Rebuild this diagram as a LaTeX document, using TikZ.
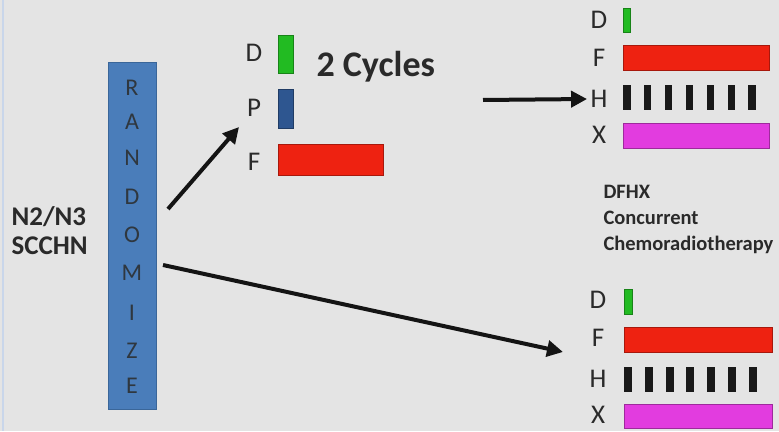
\documentclass[tikz,border=0pt]{standalone}
\usepackage{fontspec}
\setmainfont{Carlito}
\usetikzlibrary{arrows.meta}
\definecolor{bg}{HTML}{E4E4E4}
\definecolor{edgeline}{HTML}{C9D6EA}
\definecolor{randblue}{HTML}{4A7DBA}
\definecolor{randedge}{HTML}{3A6699}
\definecolor{dgreen}{HTML}{22BB22}
\definecolor{pblue}{HTML}{2E5690}
\definecolor{fred}{HTML}{EE2211}
\definecolor{xmag}{HTML}{E23CDF}
\definecolor{txt}{HTML}{2A2A2A}
\tikzset{
  bar/.style={draw=#1!70!black, line width=0.8pt, fill=#1},
  hbar/.style={fill=black!90},
  drug/.style={text=txt, font=\fontsize{27}{27}\selectfont, anchor=center},
  letter/.style={text=txt!85!randblue, font=\fontsize{24}{24}\selectfont},
  bigarrow/.style={line width=4pt, -{Triangle[length=16pt,width=16pt]}, black!92},
  note/.style={text=txt, font=\bfseries\fontsize{20.5}{26}\selectfont, align=left, anchor=west}
}
\begin{document}
\begin{tikzpicture}[x=1pt,y=-1pt]
  % canvas
  \fill[bg] (0,0) rectangle (779,431);
  \useasboundingbox (0,0) rectangle (779,431);
  \fill[edgeline] (2,0) rectangle (4,431);

  % population
  \node[note, font=\bfseries\fontsize{27}{29}\selectfont] (pop) at (8,231) {N2/N3\\SCCHN};

  % randomization column
  \node[draw=randedge, fill=randblue, minimum width=48pt, minimum height=347pt, inner sep=0pt] (rand) at (132,235.5) {};
  \foreach \ch/\yy in {R/88,A/122,N/158,D/197,O/235,M/273,I/313,Z/351,E/386}
    \node[letter] at (132,\yy) {\ch};

  % induction arm: DPF
  \node[drug] (d1) at (254,53) {D};
  \node[drug] (p1) at (254,108) {P};
  \node[drug] (f1) at (254,162) {F};
  \draw[bar=dgreen] (278,35) rectangle (293,73);
  \draw[bar=pblue] (278,89) rectangle (293,128);
  \draw[bar=fred] (278,144) rectangle (383,175);
  \node[text=txt, font=\bfseries\fontsize{36}{36}\selectfont, anchor=west] (cyc) at (313,67) {2 Cycles};

  % top chemoradiotherapy block
  \node[drug] (d2) at (599,20) {D};
  \node[drug] (f2) at (599,58) {F};
  \node[drug] (h2) at (599,99) {H};
  \node[drug] (x2) at (599,135) {X};
  \draw[bar=dgreen] (623,8) rectangle (630,32);
  \draw[bar=fred] (623,45) rectangle (769,70);
  \foreach \k in {0,...,6}
    \fill[hbar] (623+20.9*\k,85) rectangle (630.5+20.9*\k,110);
  \draw[bar=xmag] (623,123) rectangle (769,148);

  \node[note] (dfhx) at (600,219) {DFHX\\Concurrent\\Chemoradiotherapy};

  % bottom chemoradiotherapy block
  \node[drug] (d3) at (598,300) {D};
  \node[drug] (f3) at (598,338) {F};
  \node[drug] (h3) at (598,379) {H};
  \node[drug] (x3) at (598,415) {X};
  \draw[bar=dgreen] (624,289) rectangle (632,314);
  \draw[bar=fred] (624,327) rectangle (772,352);
  \foreach \k in {0,...,6}
    \fill[hbar] (624+20.8*\k,367) rectangle (632+20.8*\k,392);
  \draw[bar=xmag] (624,404) rectangle (772,428);

  % arrows
  \coordinate (a1s) at (168,209);
  \coordinate (a1e) at (239,127);
  \coordinate (a2s) at (163,265);
  \coordinate (a2e) at (563,352);
  \coordinate (a3s) at (483,100);
  \draw[bigarrow] (a1s) -- (a1e);
  \draw[bigarrow] (a2s) -- (a2e);
  \draw[bigarrow] (a3s) -- (h2.west);
\end{tikzpicture}
\end{document}
